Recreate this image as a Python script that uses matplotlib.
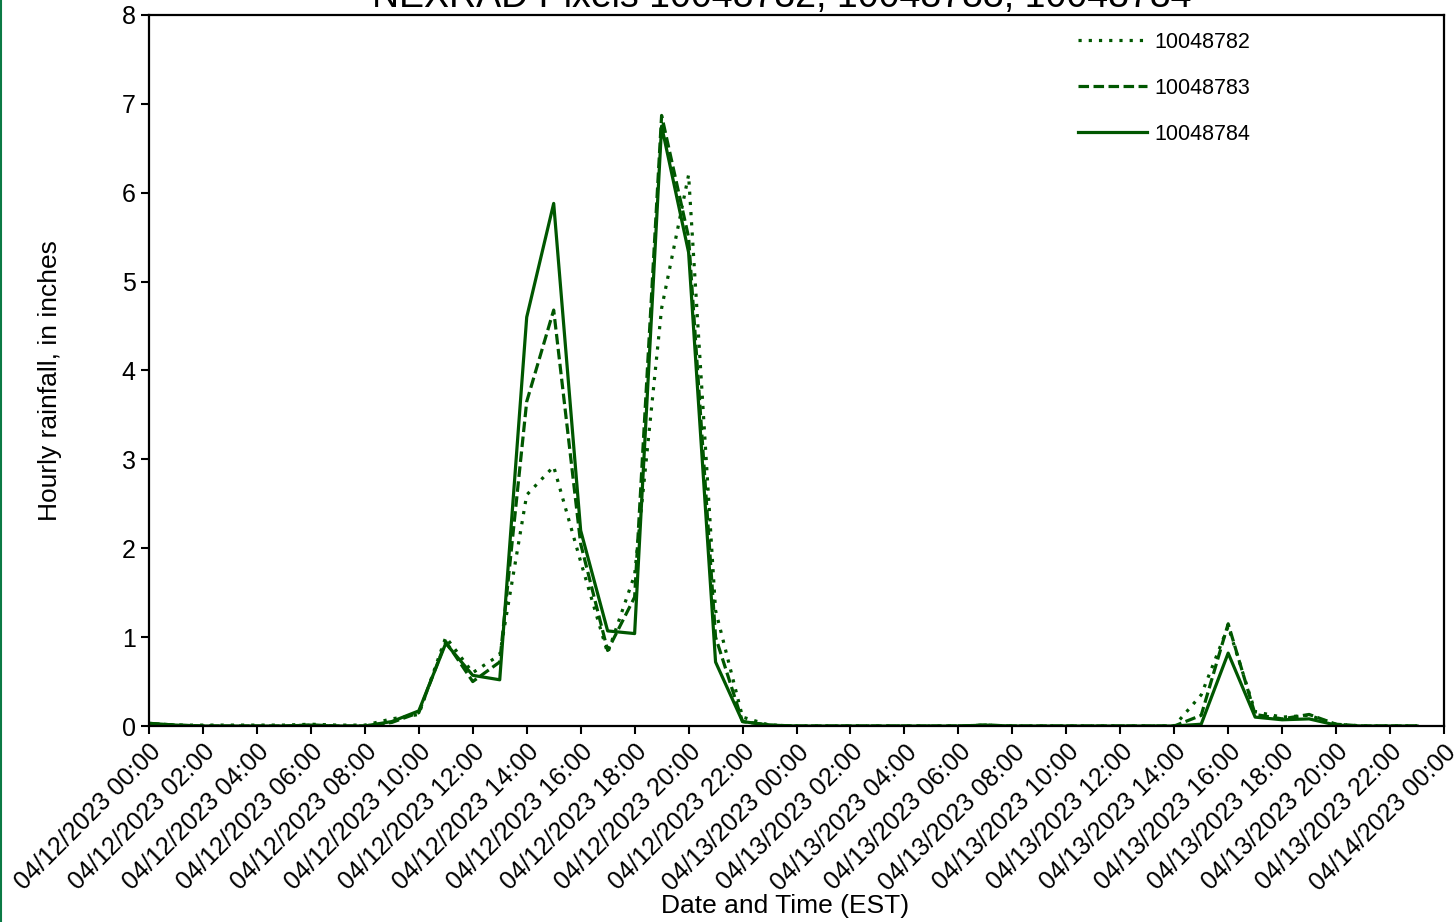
import pandas as pd
import matplotlib
matplotlib.use('Agg')
import matplotlib.pyplot as plt
import matplotlib.dates as mdates
from matplotlib.lines import Line2D

# hourly rainfall, 04/12/2023 00:00 .. 04/13/2023 23:00
times = pd.date_range('2023-04-12 00:00', periods=48, freq='h')

pixel_10048782 = [0.02, 0.01, 0.01, 0.01, 0.01, 0.01, 0.02, 0.01, 0.01, 0.08, 0.13, 1.0,
                  0.6, 0.8, 2.6, 2.92, 1.85, 0.82, 1.7, 4.7, 6.2, 1.3, 0.1, 0.01,
                  0.0, 0.0, 0.0, 0.0, 0.0, 0.0, 0.0, 0.01, 0.0, 0.0, 0.0, 0.0,
                  0.0, 0.0, 0.0, 0.35, 1.12, 0.16, 0.1, 0.12, 0.02, 0.0, 0.0, 0.0]
pixel_10048783 = [0.03, 0.01, 0.0, 0.0, 0.0, 0.0, 0.01, 0.0, 0.0, 0.04, 0.15, 0.95,
                  0.5, 0.72, 3.65, 4.68, 2.05, 0.85, 1.45, 6.87, 5.5, 1.0, 0.05, 0.01,
                  0.0, 0.0, 0.0, 0.0, 0.0, 0.0, 0.0, 0.01, 0.0, 0.0, 0.0, 0.0,
                  0.0, 0.0, 0.0, 0.12, 1.15, 0.13, 0.08, 0.13, 0.02, 0.0, 0.0, 0.0]
pixel_10048784 = [0.03, 0.01, 0.0, 0.0, 0.0, 0.0, 0.01, 0.0, 0.0, 0.05, 0.17, 0.93,
                  0.57, 0.52, 4.6, 5.88, 2.2, 1.07, 1.04, 6.75, 5.33, 0.72, 0.05, 0.01,
                  0.0, 0.0, 0.0, 0.0, 0.0, 0.0, 0.0, 0.01, 0.0, 0.0, 0.0, 0.0,
                  0.0, 0.0, 0.0, 0.02, 0.82, 0.1, 0.07, 0.08, 0.01, 0.0, 0.0, 0.0]

plt.rcParams['font.family'] = ['Liberation Sans', 'DejaVu Sans']

green = '#005700'

fig = plt.figure(figsize=(14.54, 9.22), dpi=100)
ax = fig.add_axes([149 / 1454, 1 - 726 / 922, 1295 / 1454, 711 / 922])

ax.plot(times, pixel_10048782, color=green, lw=2.3, linestyle=(0, (1, 2.2)),
        label='10048782')
ax.plot(times, pixel_10048783, color=green, lw=2.3, linestyle=(0, (3.3, 1.4)),
        label='10048783')
ax.plot(times, pixel_10048784, color=green, lw=2.3, label='10048784')

ax.set_xlim(pd.Timestamp('2023-04-12 00:00'), pd.Timestamp('2023-04-14 00:00'))
ax.set_ylim(0, 8)
ax.set_yticks(range(0, 9))
ax.xaxis.set_major_locator(mdates.HourLocator(interval=2))
ax.xaxis.set_major_formatter(mdates.DateFormatter('%m/%d/%Y %H:%M'))
for lab in ax.get_xticklabels():
    lab.set_rotation(45)
    lab.set_ha('right')
    lab.set_rotation_mode('anchor')

ax.tick_params(axis='both', direction='out', length=6, width=1.5, labelsize=18,
               color='black')
ax.tick_params(axis='x', pad=4)
for sp in ax.spines.values():
    sp.set_linewidth(1.6)
    sp.set_color('black')

fig.text(50 / 1454, 1 - 381 / 922, 'Hourly rainfall, in inches', fontsize=19,
         rotation=90, ha='center', va='center')
fig.text(785 / 1454, 1 - 906 / 922, 'Date and Time (EST)', fontsize=19,
         ha='center', va='center')
fig.text(782 / 1454, 1 - 7 / 922, 'NEXRAD Pixels 10048782, 10048783, 10048784',
         fontsize=27, ha='center', va='baseline')

ax.legend(loc='upper left', bbox_to_anchor=(0.7027, 1.004), frameon=False,
          fontsize=15.5, handlelength=3.2, labelspacing=1.17, handletextpad=0.33)

# green frame edge on the left
fig.add_artist(Line2D([0.001, 0.001], [0, 1], color='#0b7a45', lw=1.5,
                      transform=fig.transFigure))

fig.savefig('out.png', dpi=100)
